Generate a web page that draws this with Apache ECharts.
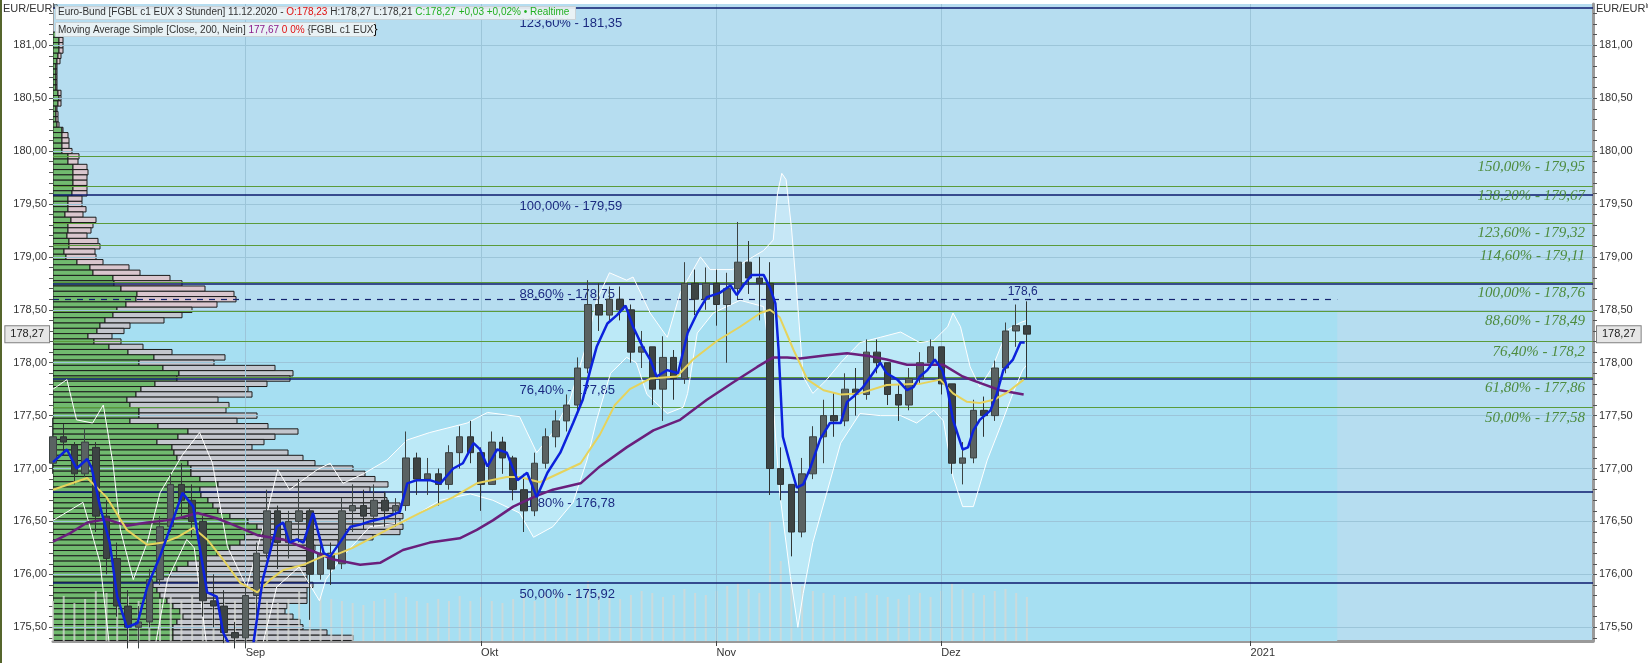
<!DOCTYPE html>
<html><head><meta charset="utf-8">
<script src="https://cdn.jsdelivr.net/npm/echarts@6/dist/echarts.min.js"></script>
<style>html,body{margin:0;padding:0;background:#fff;overflow:hidden}#c{width:1648px;height:663px}</style>
</head><body><div id="c"></div>
<script>
// ---- x axis: trading-day index (0 = 6 Aug 2020) ----
const monthDays = [18, 40, 62, 83, 111.9];
const monthLabels = ['Sep', 'Okt', 'Nov', 'Dez', '2021'];
const yLabelValues = [175.5, 176, 176.5, 177, 177.5, 178, 178.5, 179, 179.5, 180, 180.5, 181];

// daily OHLC [open, close, low, high], index = trading day
const candleOHLC = [
[177.05,177.30,176.95,177.48],[177.30,177.25,177.12,177.42],[177.22,176.95,176.85,177.25],[176.95,177.25,176.92,177.38],
[177.20,176.55,176.40,177.25],[176.55,176.15,176.00,176.70],[176.15,175.70,175.60,176.30],[175.70,175.50,175.30,175.85],
[175.50,175.55,175.30,175.70],[175.55,175.95,175.50,176.05],[175.95,176.45,175.90,176.55],[176.45,176.85,176.40,176.95],
[176.85,176.70,176.55,177.05],[176.70,176.50,176.35,176.85],[176.50,175.75,175.60,176.55],[175.75,175.70,175.50,176.00],
[175.70,175.45,175.35,175.85],[175.45,175.40,175.30,175.55],[175.40,175.80,175.30,175.90],[175.80,176.20,175.60,176.30],
[176.20,176.60,176.15,176.80],[176.60,176.30,176.05,176.65],[176.30,176.50,176.15,176.60],[176.50,176.60,176.30,176.90],
[176.60,176.00,175.57,176.62],[176.00,176.20,175.95,176.35],[176.20,176.05,175.90,176.30],[176.10,176.60,176.05,176.72],
[176.60,176.65,176.40,176.85],[176.65,176.55,176.42,176.80],[176.55,176.70,176.45,176.85],[176.70,176.60,176.45,176.78],
[176.60,176.65,176.45,176.72],[176.65,177.10,176.60,177.35],[177.10,176.90,176.75,177.15],[176.90,176.95,176.75,177.10],
[176.95,176.85,176.65,177.00],[176.85,177.15,176.80,177.22],[177.15,177.30,177.00,177.40],[177.30,177.15,177.05,177.45],
[177.15,176.85,176.60,177.20],[176.85,177.25,176.85,177.35],[177.25,177.10,176.95,177.30],[177.10,176.80,176.70,177.12],
[176.80,176.60,176.40,176.95],[176.60,177.05,176.55,177.15],[177.05,177.30,177.00,177.38],[177.30,177.45,177.20,177.55],
[177.45,177.60,177.35,177.70],[177.60,177.95,177.55,178.05],[177.95,178.55,177.90,178.78],[178.55,178.45,178.30,178.75],
[178.45,178.60,178.40,178.72],[178.60,178.50,178.40,178.72],[178.50,178.10,178.00,178.55],[178.10,178.15,177.95,178.30],
[178.15,177.75,177.60,178.15],[177.75,178.05,177.45,178.25],[178.05,177.85,177.65,178.12],[177.85,178.75,177.80,178.95],
[178.75,178.60,178.45,178.88],[178.60,178.75,178.50,178.90],[178.75,178.55,178.35,178.88],[178.55,178.70,178.00,178.85],
[178.70,178.95,178.60,179.33],[178.95,178.80,178.65,179.15],[178.80,178.75,178.40,179.00],[178.75,177.00,176.75,178.95],
[177.00,176.85,176.70,177.20],[176.85,176.40,176.17,176.85],[176.40,176.95,176.35,177.10],[176.95,177.30,176.90,177.40],
[177.30,177.50,177.05,177.65],[177.50,177.45,177.30,177.72],[177.45,177.75,177.40,177.90],[177.75,177.70,177.50,177.95],
[177.70,178.10,177.65,178.22],[178.10,178.00,177.90,178.22],[178.00,177.70,177.60,178.00],[177.70,177.60,177.45,177.80],
[177.60,177.85,177.55,177.95],[177.85,178.00,177.80,178.10],[178.00,178.15,177.95,178.22],[178.15,177.80,177.70,178.15],
[177.80,177.05,176.95,177.80],[177.05,177.10,176.85,177.25],[177.10,177.55,177.05,177.65],[177.55,177.50,177.30,177.68],
[177.50,177.95,177.45,178.02],[177.95,178.30,177.90,178.38],[178.30,178.35,178.15,178.55],[178.35,178.27,177.85,178.58]
];

const volumes = [40,45,38,42,50,48,52,45,40,38,42,44,40,46,50,42,38,40,
45,48,40,38,42,50,55,45,42,40,38,36,40,42,48,44,40,38,42,40,45,40,
44,40,38,42,46,40,48,50,46,52,60,48,44,42,46,50,48,44,46,52,48,46,
50,55,58,52,48,120,80,62,55,50,48,46,44,45,48,46,44,42,46,48,44,
50,58,52,48,46,50,52,48,44];

const blueMA = [[0,177.06],[1.3,177.18],[2.2,177.0],[3.2,177.09],[3.6,177.01],[4.4,176.64],[5.3,176.3],[6,175.79],[6.9,175.5],[7.9,175.54],[8.8,175.88],[10,176.17],[11.2,176.51],[12.1,176.77],[13.1,176.64],[13.7,176.26],[14.4,175.83],[15.3,175.79],[15.9,175.45],[16.5,175.33],[18.7,175.33],[19.6,175.95],[20.9,176.45],[21.5,176.49],[22.1,176.3],[22.8,176.33],[23.4,176.3],[24.3,176.58],[25.3,176.2],[25.9,176.17],[26.8,176.3],[27.8,176.45],[28.7,176.47],[29.6,176.5],[31.2,176.54],[32.4,176.59],[33.1,176.86],[34,176.89],[35.2,176.89],[36.2,176.86],[37.4,177.0],[38.3,177.05],[39.3,177.24],[39.9,177.18],[40.6,177.02],[41.5,177.18],[42.4,177.15],[43.4,176.89],[44.3,176.96],[45.2,176.73],[46.2,176.96],[47.4,177.15],[48.6,177.43],[49.5,177.65],[50.2,177.93],[50.8,178.15],[51.8,178.37],[52.7,178.45],[53.5,178.54],[54.2,178.34],[55.1,178.15],[55.8,178.03],[56.4,177.87],[57.4,177.93],[58.4,177.9],[59.3,178.28],[60.2,178.47],[61.1,178.62],[62.3,178.66],[63.3,178.73],[63.9,178.64],[64.5,178.73],[65.3,178.83],[66.4,178.83],[67,178.71],[67.5,178.56],[67.8,178.12],[68.2,177.3],[69.1,176.96],[69.5,176.82],[70.1,176.85],[70.7,176.99],[71.7,177.28],[72.6,177.43],[73.6,177.43],[74.2,177.63],[74.8,177.68],[75.7,177.77],[76.4,177.87],[77.3,178.0],[77.9,177.9],[78.9,177.84],[79.8,177.74],[80.4,177.77],[81,177.87],[81.7,177.93],[82.4,178.03],[83.1,177.93],[83.6,177.74],[84.1,177.46],[85,177.18],[85.5,177.2],[86,177.36],[86.6,177.46],[87.6,177.55],[88.2,177.71],[88.8,177.93],[89.7,178.03],[90.4,178.19],[90.8,178.19]];

const yellowMA = [[0,176.8],[3.2,176.91],[5,176.73],[6.9,176.42],[8.8,176.28],[10.3,176.3],[11.6,176.35],[13.1,176.44],[14.4,176.33],[15.9,176.14],[17.5,175.92],[19.1,175.83],[20.3,175.95],[21.5,176.04],[23.4,176.09],[25.2,176.17],[26.8,176.2],[28,176.25],[31.2,176.42],[34.3,176.58],[37.4,176.73],[39.6,176.86],[42.4,176.92],[43.6,176.92],[45.5,176.87],[47.4,176.96],[49.3,177.05],[51.1,177.32],[52.5,177.6],[53.9,177.75],[55.8,177.85],[58.3,177.87],[59.8,178.03],[62.1,178.21],[64.2,178.34],[66.1,178.47],[67,178.5],[67.9,178.43],[69.2,178.12],[70.5,177.84],[72,177.74],[73.6,177.7],[75.4,177.71],[77.9,177.79],[81,177.8],[82.9,177.84],[84.1,177.71],[85.4,177.63],[86.6,177.62],[87.9,177.65],[89.2,177.72],[90.7,177.84]];

const purpleMA200 = [[0,176.31],[1.6,176.39],[3.2,176.49],[5,176.52],[6.9,176.46],[8.8,176.49],[10.6,176.51],[12.1,176.54],[13.5,176.58],[15.3,176.53],[16.8,176.47],[19.1,176.37],[21.5,176.33],[24,176.23],[26.2,176.14],[28.7,176.09],[30.6,176.11],[32.7,176.23],[35.2,176.3],[38,176.34],[39.6,176.42],[41.1,176.51],[43,176.64],[44.9,176.73],[46.7,176.8],[49.3,176.86],[51.1,177.02],[53.6,177.2],[56.1,177.36],[58.6,177.46],[61.1,177.65],[63.5,177.81],[65.8,177.96],[67.3,178.05],[68.6,178.05],[69.8,178.04],[72.3,178.07],[74.2,178.09],[76.4,178.06],[77.9,178.03],[79.8,177.98],[81.7,177.98],[83.2,177.98],[85,177.87],[86.6,177.81],[88.5,177.74],[90.7,177.7]];

const bandUpper = [[0,177.75],[1.3,177.84],[2.2,177.46],[3.7,177.43],[4.7,177.6],[5.6,177.05],[6.3,176.42],[7.5,175.95],[8.8,176.3],[10,176.77],[12.1,177.13],[13.7,177.34],[14.9,177.05],[16.3,176.26],[18.1,175.88],[20,176.58],[21,176.99],[22.1,176.8],[24.7,176.99],[25.9,177.05],[27.1,176.86],[29,176.95],[31.2,177.08],[33.1,177.27],[35.2,177.34],[38.7,177.43],[40.6,177.53],[43.6,177.49],[45.2,177.15],[46.7,177.34],[48.3,177.65],[49.9,178.19],[50.8,178.59],[52,178.85],[53.6,178.78],[54.2,178.81],[55.8,178.47],[57.4,178.24],[58.6,178.66],[60.5,179.0],[61.4,178.88],[63.5,178.88],[64.9,178.97],[66.4,179.06],[67.3,179.16],[67.7,179.6],[68.1,179.79],[68.5,179.73],[69,179.28],[69.5,178.66],[70.1,177.87],[71,177.71],[72.3,177.84],[73.6,178.0],[75.4,178.19],[77.3,178.24],[79.2,178.29],[81,178.19],[82.3,178.21],[83.6,178.34],[84.1,178.47],[84.8,178.34],[85.7,177.96],[86.6,177.77],[87.8,177.96],[89.2,178.31],[90.4,178.38],[91,178.4]];

const bandLower = [[0,176.51],[1.5,176.6],[2.8,176.68],[3.6,176.4],[4.4,176.11],[5.3,175.3],[9.5,175.3],[10.7,175.95],[12.5,176.33],[13.2,176.25],[14.4,175.3],[19.5,175.3],[20.9,175.88],[23,176.07],[24.9,175.75],[25.5,175.95],[26.8,176.14],[29.6,176.45],[32.7,176.49],[36.2,176.7],[39,176.76],[41.1,176.7],[43.6,176.58],[44.9,176.35],[46.7,176.45],[48.6,176.68],[49.9,177.08],[50.8,177.46],[52.1,177.9],[53.6,178.05],[54.5,178.0],[55.5,177.7],[57.4,177.52],[58.9,177.58],[59.3,177.71],[60.2,178.28],[61.7,178.47],[64.2,178.59],[66.4,178.53],[67,178.03],[67.9,176.77],[68.9,175.98],[69.6,175.5],[70.1,175.82],[71,176.3],[72.3,176.77],[73.6,177.24],[75.4,177.52],[77.3,177.5],[79.2,177.5],[80.7,177.43],[82.3,177.55],[83.2,177.45],[84.1,176.92],[85,176.64],[86,176.64],[87.3,177.08],[88.5,177.39],[89.7,177.71],[90.6,177.93],[91,177.98]];

// volume profile rows: [price, buy volume, total volume]
const profileRows = [
[181.10,6,10],[181.05,6,10],[181.00,6,10],[180.95,6,10],[180.90,5,8],[180.85,4,7],[180.80,3,4],[180.75,3,4],[180.70,3,4],[180.65,3,4],
[180.60,3,4],[180.55,5,8],[180.50,6,8],[180.45,5,8],[180.40,3,4],[180.35,3,5],[180.30,3,5],[180.25,4,6],[180.20,9,10],[180.15,9,15],
[180.10,9,16],[180.05,9,16],[180.00,9,19],[179.95,15,26],[179.90,15,25],[179.85,20,34],[179.80,20,35],[179.75,20,34],[179.70,20,34],[179.65,20,34],
[179.60,19,34],[179.55,15,29],[179.50,15,29],[179.45,15,33],[179.40,12,30],[179.35,18,43],[179.30,15,40],[179.25,15,38],[179.20,14,34],[179.15,16,45],
[179.10,16,47],[179.05,11,42],[179.00,13,43],[178.95,24,50],[178.90,37,76],[178.85,40,87],[178.80,60,117],[178.75,61,129],[178.70,68,152],[178.65,84,181],
[178.60,83,183],[178.55,73,164],[178.50,64,139],[178.45,60,129],[178.40,52,111],[178.35,47,77],[178.30,44,71],[178.25,35,59],[178.20,41,68],[178.15,56,90],
[178.10,75,119],[178.05,101,172],[178.00,86,161],[177.95,110,222],[177.90,126,240],[177.85,124,237],[177.80,102,214],[177.75,88,195],[177.70,83,199],[177.65,74,165],
[177.60,77,176],[177.55,86,173],[177.50,86,204],[177.45,77,184],[177.40,105,215],[177.35,135,245],[177.30,125,222],[177.25,104,211],[177.20,119,199],[177.15,121,235],
[177.10,124,250],[177.05,135,262],[177.00,138,300],[176.95,138,312],[176.90,147,322],[176.85,165,335],[176.80,147,317],[176.75,148,332],[176.70,155,334],[176.65,160,347],
[176.60,165,340],[176.55,177,350],[176.50,195,347],[176.45,204,350],[176.40,209,347],[176.35,192,320],[176.30,187,285],[176.25,177,262],[176.20,164,257],[176.15,147,255],
[176.10,135,255],[176.05,124,254],[176.00,117,254],[175.95,104,254],[175.90,100,260],[175.85,104,254],[175.80,107,254],[175.75,114,254],[175.70,120,234],[175.65,127,232],
[175.60,130,240],[175.55,124,247],[175.50,120,250],[175.45,120,274],[175.40,120,300]
];

const greenFibVal = [179.95, 179.67, 179.32, 179.11, 178.76, 178.49, 178.2, 177.86, 177.58];
const greenFibLabels = ['150,00% - 179,95','138,20% - 179,67','123,60% - 179,32','114,60% - 179,11','100,00% - 178,76','88,60% - 178,49','76,40% - 178,2','61,80% - 177,86','50,00% - 177,58'];
const navyFibVal = [181.35, 179.59, 178.75, 177.85, 176.78, 175.92];
const navyFibLabels = ['123,60% - 181,35','100,00% - 179,59','88,60% - 178,75','76,40% - 177,85','61,80% - 176,78','50,00% - 175,92'];
const dashedLevel = 178.6, dashedLabel = '178,6';
const lastPrice = 178.27, lastPriceLabel = '178,27';

// ---- layout constants ----
const XMAX = 143.9, YMIN = 175.37, YMAX = 181.39;
const CYAN_END = 120, CYAN_TOP = 178.49, NAVY_LABEL_DAY = 43.6, DASH_LABEL_END = 92.2;
const FONT = 'Liberation Sans';
const CLEAR = 'rgba(0,0,0,0)';

const fmt = v => v.toFixed(2).replace('.', ',');
const tickValues = [];
for (let k = 0; k <= 59; k++) tickValues.push(+(175.4 + k * 0.1).toFixed(2));

function priceAxis(pos) {
  return {
    type: 'value', position: pos, min: YMIN, max: YMAX,
    axisLine: { show: true, onZero: false, lineStyle: { color: pos === 'right' ? '#9a9a9a' : '#a0a0a0', width: pos === 'right' ? 3 : 1 } },
    axisTick: { show: true, customValues: tickValues, length: 4, lineStyle: { color: '#555' } },
    axisLabel: { customValues: yLabelValues, formatter: fmt, color: '#333', fontSize: 11, fontFamily: FONT, margin: 6 },
    splitLine: { show: false }
  };
}

const chart = echarts.init(document.getElementById('c'), null, { renderer: 'canvas', width: 1648, height: 663 });

const option = {
  animation: false,
  backgroundColor: '#ffffff',
  textStyle: { fontFamily: FONT },
  grid: { left: 53, right: 55, top: 4, bottom: 22, show: true, backgroundColor: '#b6ddf0', borderWidth: 0 },
  xAxis: [
    { type: 'value', min: 0, max: XMAX,
      axisLine: { show: true, onZero: false, lineStyle: { color: '#9a9a9a', width: 3 } },
      axisTick: { show: true, customValues: monthDays, length: 5, lineStyle: { color: '#444' } },
      axisLabel: { customValues: monthDays, align: 'left', margin: 6, color: '#333', fontSize: 11, fontFamily: FONT,
        formatter: v => { let best = 0; monthDays.forEach((d, i) => { if (Math.abs(d - v) < Math.abs(monthDays[best] - v)) best = i; }); return monthLabels[best]; } },
      splitLine: { show: false } },
    { type: 'value', min: 0, max: 1540, show: false }
  ],
  yAxis: [ priceAxis('left'), priceAxis('right'), { type: 'value', min: 0, max: 637, show: false } ],
  series: [
    { type: 'line', name: 'bg', data: [], z: 0, silent: true,
      markArea: { silent: true, itemStyle: { color: '#a6dff2' }, data: [[{ xAxis: 0, yAxis: YMIN }, { xAxis: CYAN_END, yAxis: CYAN_TOP }]] },
      markLine: { silent: true, symbol: ['none', 'none'], label: { show: false },
        lineStyle: { color: '#9cc5d9', width: 1, type: 'solid' },
        data: yLabelValues.map(v => ({ yAxis: v })).concat(monthDays.map(d => ({ xAxis: d }))) } },
    { type: 'custom', name: 'bandFill', xAxisIndex: 0, yAxisIndex: 0, z: 2, silent: true, clip: true, data: [[0, 177]],
      renderItem: (params, api) => {
        const pts = bandUpper.map(p => api.coord(p)).concat(bandLower.slice().reverse().map(p => api.coord(p)));
        return { type: 'polygon', shape: { points: pts }, style: { fill: 'rgba(222,248,255,0.4)' } };
      } },
    { type: 'custom', name: 'profile', xAxisIndex: 1, yAxisIndex: 0, z: 3, silent: true, clip: true,
      data: profileRows, encode: { x: 2, y: 0 },
      renderItem: (params, api) => {
        const p = api.value(0), g = api.value(1), t = api.value(2);
        const a = api.coord([0, p]), b = api.coord([g, p]), c = api.coord([t, p]);
        const h = api.size([0, 0.05])[1];
        return { type: 'group', children: [
          { type: 'rect', shape: { x: a[0], y: a[1] - h / 2, width: b[0] - a[0], height: h }, style: { fill: '#71ba6f', stroke: '#1c1c1c', lineWidth: 1 } },
          { type: 'rect', shape: { x: b[0], y: a[1] - h / 2, width: c[0] - b[0], height: h }, style: { fill: p >= 178.55 ? '#dac6ce' : '#c3c6cd', stroke: '#1c1c1c', lineWidth: 1 } }
        ] };
      } },
    { type: 'bar', name: 'volume', xAxisIndex: 0, yAxisIndex: 2, z: 3.5, silent: true, barWidth: 2,
      itemStyle: { color: 'rgba(214,216,212,0.75)' }, data: volumes.map((v, i) => [i, v]) },
    { type: 'line', name: 'fib', data: [], z: 4, silent: true,
      markLine: { silent: true, symbol: ['none', 'none'],
        data: [].concat(
          greenFibVal.map((v, i) => ({ yAxis: v, lineStyle: { color: '#5b9b3b', width: 1.2, type: 'solid' },
            label: { show: true, position: 'insideEndBottom', formatter: greenFibLabels[i], color: '#4d8b3d', fontFamily: 'Liberation Serif', fontStyle: 'italic', fontSize: 15, distance: [8, 3] } })),
          navyFibVal.map(v => ({ yAxis: v, lineStyle: { color: '#0c1a6e', width: 1.5, type: 'solid' }, label: { show: false } })),
          navyFibVal.map((v, i) => [
            { coord: [NAVY_LABEL_DAY, v], lineStyle: { color: CLEAR, width: 0 },
              label: { show: true, position: 'insideStartBottom', formatter: navyFibLabels[i], color: '#1b2a80', fontSize: 13, fontFamily: FONT, distance: [0, i === 0 ? 9 : 5] } },
            { coord: [XMAX, v] }]),
          [[{ coord: [0, dashedLevel], lineStyle: { color: '#13216e', width: 1.2, type: [6, 6] }, label: { show: false } }, { coord: [CYAN_END, dashedLevel] }]],
          [[{ coord: [0, dashedLevel], lineStyle: { color: CLEAR, width: 0 },
              label: { show: true, position: 'insideEndTop', formatter: dashedLabel, color: '#1b2a80', fontSize: 12, fontFamily: FONT, distance: [2, 2] } },
            { coord: [DASH_LABEL_END, dashedLevel] }]]
        ) } },
    { type: 'line', name: 'bandUpper', data: bandUpper, symbol: 'none', z: 5, silent: true, lineStyle: { color: '#ffffff', width: 1 } },
    { type: 'line', name: 'bandLower', data: bandLower, symbol: 'none', z: 5, silent: true, lineStyle: { color: '#ffffff', width: 1 } },
    { type: 'candlestick', name: 'Euro-Bund', z: 6, silent: true, barWidth: 7,
      encode: { x: 0, y: [1, 2, 3, 4] },
      data: candleOHLC.map((d, i) => [i].concat(d)),
      itemStyle: { color: '#5a6262', color0: '#3d4444', borderColor: '#3c4343', borderColor0: '#2f3434', borderWidth: 1 } },
    { type: 'line', name: 'MA200', data: purpleMA200, symbol: 'none', z: 7, silent: true, lineStyle: { color: '#6a1f7c', width: 2.5 } },
    { type: 'line', name: 'MAyellow', data: yellowMA, symbol: 'none', z: 7, silent: true, lineStyle: { color: '#e6d35c', width: 2 } },
    { type: 'line', name: 'MAblue', data: blueMA, symbol: 'none', z: 8, silent: true, lineStyle: { color: '#0c22dc', width: 2.5 } },
    { type: 'line', name: 'last', data: [], z: 9, silent: true,
      markLine: { silent: true, symbol: ['none', 'none'], lineStyle: { color: CLEAR, width: 0 },
        label: { show: true, formatter: lastPriceLabel, color: '#222', fontSize: 11, fontFamily: FONT, backgroundColor: '#e6e6e6', borderColor: '#808080', borderWidth: 1, padding: [3, 5, 2, 5] },
        data: [{ yAxis: lastPrice, label: { position: 'start', distance: 4 } }, { yAxis: lastPrice, label: { position: 'end', distance: 4 } }] } }
  ],
  graphic: [
    { type: 'rect', left: 0, top: 0, z: 100, shape: { width: 2, height: 663 }, style: { fill: '#55652c' } },
    { type: 'text', left: 3, top: 3, z: 100, style: { text: '{a|EUR/EUR}{s|ln}', rich: { a: { fill: '#333', fontSize: 11, fontFamily: FONT }, s: { fill: '#333', fontSize: 7, fontFamily: FONT, verticalAlign: 'top' } } } },
    { type: 'text', left: 1596, top: 3, z: 100, style: { text: '{a|EUR/EUR}{s|ln}', rich: { a: { fill: '#333', fontSize: 11, fontFamily: FONT }, s: { fill: '#333', fontSize: 7, fontFamily: FONT, verticalAlign: 'top' } } } },
    { type: 'rect', left: 55, top: 6, z: 100, shape: { width: 520, height: 13 }, style: { fill: 'rgba(238,243,245,0.92)', stroke: '#c9d2d6' } },
    { type: 'rect', left: 55, top: 22, z: 100, shape: { width: 320, height: 14 }, style: { fill: 'rgba(238,243,245,0.92)', stroke: '#c9d2d6' } },
    { type: 'text', left: 58, top: 7, z: 101, style: {
      text: '{d|Euro-Bund [FGBL c1 EUX 3 Stunden] 11.12.2020 - }{r|O:178,23}{d| H:178,27 L:178,21 }{g|C:178,27 +0,03 +0,02% • Realtime}',
      rich: { d: { fill: '#333', fontSize: 10, fontFamily: FONT }, r: { fill: '#e01010', fontSize: 10, fontFamily: FONT }, g: { fill: '#22b022', fontSize: 10, fontFamily: FONT } } } },
    { type: 'text', left: 58, top: 24, z: 101, style: {
      text: '{d|Moving Average Simple [Close, 200, Nein] }{p|177,67}{r| 0 0%}{d| \u007bFGBL c1 EUX\u007d}',
      rich: { d: { fill: '#333', fontSize: 10, fontFamily: FONT }, p: { fill: '#8b1a8b', fontSize: 10, fontFamily: FONT }, r: { fill: '#e01010', fontSize: 10, fontFamily: FONT } } } }
  ]
};
chart.setOption(option);
</script>
</body></html>
